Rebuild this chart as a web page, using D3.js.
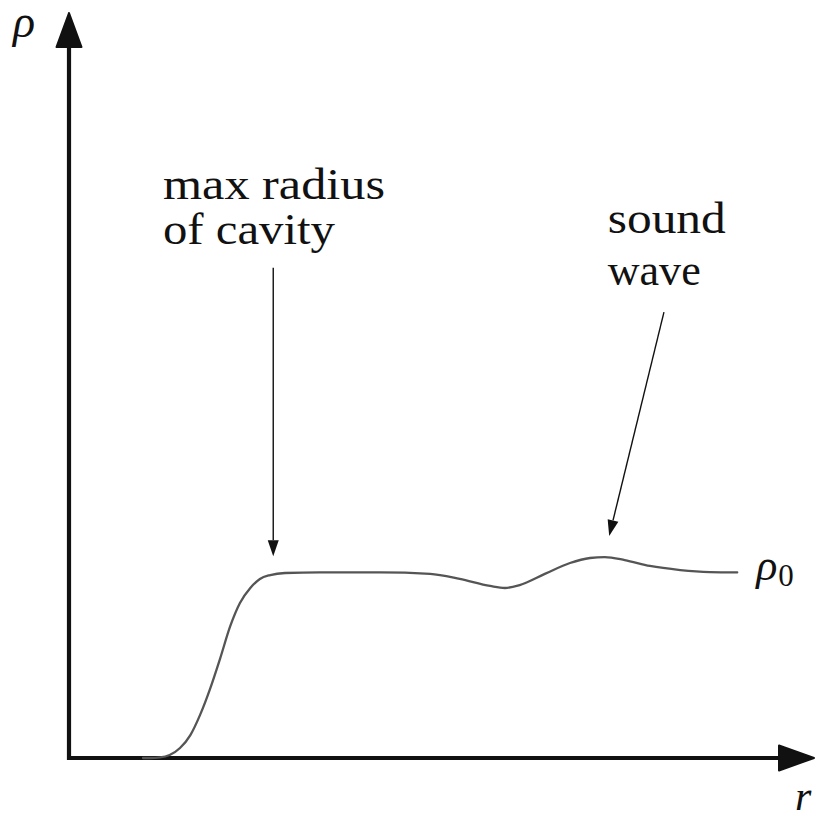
<!DOCTYPE html>
<html>
<head>
<meta charset="utf-8">
<script src="https://cdn.jsdelivr.net/npm/d3@7"></script>
</head>
<body style="margin:0">
<svg id="chart" width="816" height="819"></svg>
<script>
// Density profile rho(r) around a collapsing cavity (rho normalised to rho0 = 1)
const radius  = [1.00, 1.09, 1.23, 1.36, 1.50, 1.64, 1.77, 1.91, 2.04, 2.18, 2.31, 2.45, 2.58, 2.72, 2.92, 3.39, 4.20, 4.88, 5.28, 5.69, 5.89, 6.09, 6.43, 6.77, 7.04, 7.24, 7.51, 7.85, 8.26, 8.66, 9.03];
const density = [0.000, 0.000, 0.003, 0.016, 0.054, 0.124, 0.232, 0.378, 0.535, 0.714, 0.838, 0.919, 0.968, 0.989, 1.000, 1.003, 1.003, 0.995, 0.968, 0.930, 0.919, 0.935, 0.995, 1.054, 1.081, 1.086, 1.070, 1.038, 1.016, 1.005, 1.003];

// Annotations: label lines, anchor point of the text, arrow tail and arrow tip (r, rho)
const annotationText  = [["max radius", "of cavity"], ["sound", "wave"]];
const annotationAt    = [[1.27, 3.02], [7.28, 2.84]];
const annotationTail  = [[2.76, 2.65], [8.04, 2.41]];
const annotationTip   = [[2.76, 1.09], [7.30, 1.20]];

const axisLabels = { y: "ρ", x: "r", level: "ρ" };

const svg = d3.select("#chart");

const x = d3.scaleLinear().domain([0, 10]).range([69, 809]);
const y = d3.scaleLinear().domain([0, 4]).range([758, 18]);

const axisColor = "#111";

function label(xp, yp, size) {
  return svg.append("text")
    .attr("x", xp).attr("y", yp)
    .attr("font-size", size)
    .style("font-family", '"Liberation Serif"')
    .attr("fill", "#111");
}

// Axes with heavy arrowheads
svg.append("line")
  .attr("x1", x(0)).attr("y1", y(0) + 2)
  .attr("x2", x(0)).attr("y2", y(4) + 20)
  .attr("stroke", axisColor).attr("stroke-width", 4.2);
svg.append("line")
  .attr("x1", x(0) - 2).attr("y1", y(0))
  .attr("x2", x(10) - 20).attr("y2", y(0))
  .attr("stroke", axisColor).attr("stroke-width", 4.2);

const yTipX = x(0), yTipY = y(4) - 5;
svg.append("path")
  .attr("d", `M${yTipX},${yTipY} L${yTipX - 12.5},${yTipY + 34} L${yTipX + 12.5},${yTipY + 34} Z`)
  .attr("fill", axisColor).attr("stroke", axisColor)
  .attr("stroke-width", 2).attr("stroke-linejoin", "round");

const xTipX = x(10) + 5, xTipY = y(0);
svg.append("path")
  .attr("d", `M${xTipX},${xTipY} L${xTipX - 35},${xTipY - 12.5} L${xTipX - 35},${xTipY + 12.5} Z`)
  .attr("fill", axisColor).attr("stroke", axisColor)
  .attr("stroke-width", 2).attr("stroke-linejoin", "round");

// Axis labels
label(13, 37, 46).style("font-style", "italic").text(axisLabels.y);
label(795, 810, 42).style("font-style", "italic").text(axisLabels.x);

// Density curve
const line = d3.line()
  .x((d, i) => x(radius[i]))
  .y(d => y(d))
  .curve(d3.curveMonotoneX);

svg.append("path")
  .datum(density)
  .attr("d", line)
  .attr("fill", "none")
  .attr("stroke", "#555")
  .attr("stroke-width", 2.3)
  .attr("stroke-linecap", "round");

// rho0 label at the far end of the curve
const level = label(x(radius[radius.length - 1]) + 19, y(density[density.length - 1]) + 8, 44);
level.append("tspan").style("font-style", "italic").text(axisLabels.level);
level.append("tspan").attr("font-size", 31).attr("dy", 6).attr("dx", 1).text("0");

// Annotation arrows
annotationTail.forEach((tail, i) => {
  const tip = annotationTip[i];
  const x1 = x(tail[0]), y1 = y(tail[1]);
  const x2 = x(tip[0]), y2 = y(tip[1]);
  const ang = Math.atan2(y2 - y1, x2 - x1);
  const len = 16, half = 5.5;
  const bx = x2 - len * Math.cos(ang), by = y2 - len * Math.sin(ang);
  svg.append("line")
    .attr("x1", x1).attr("y1", y1).attr("x2", bx).attr("y2", by)
    .attr("stroke", "#111").attr("stroke-width", 1.4);
  const px = -Math.sin(ang) * half, py = Math.cos(ang) * half;
  svg.append("path")
    .attr("d", `M${x2},${y2} L${bx + px},${by + py} L${bx - px},${by - py} Z`)
    .attr("fill", "#111");
});

// Annotation text, stretched to the widths of the set labels
const lineWidths = [[222, 172], [118, 93]];
annotationText.forEach((lines, i) => {
  const [ax, ay] = annotationAt[i];
  lines.forEach((t, j) => {
    label(x(ax), y(ay) + j * (i === 0 ? 45 : 52), 45)
      .attr("textLength", lineWidths[i][j])
      .attr("lengthAdjust", "spacingAndGlyphs")
      .text(t);
  });
});
</script>
</body>
</html>
